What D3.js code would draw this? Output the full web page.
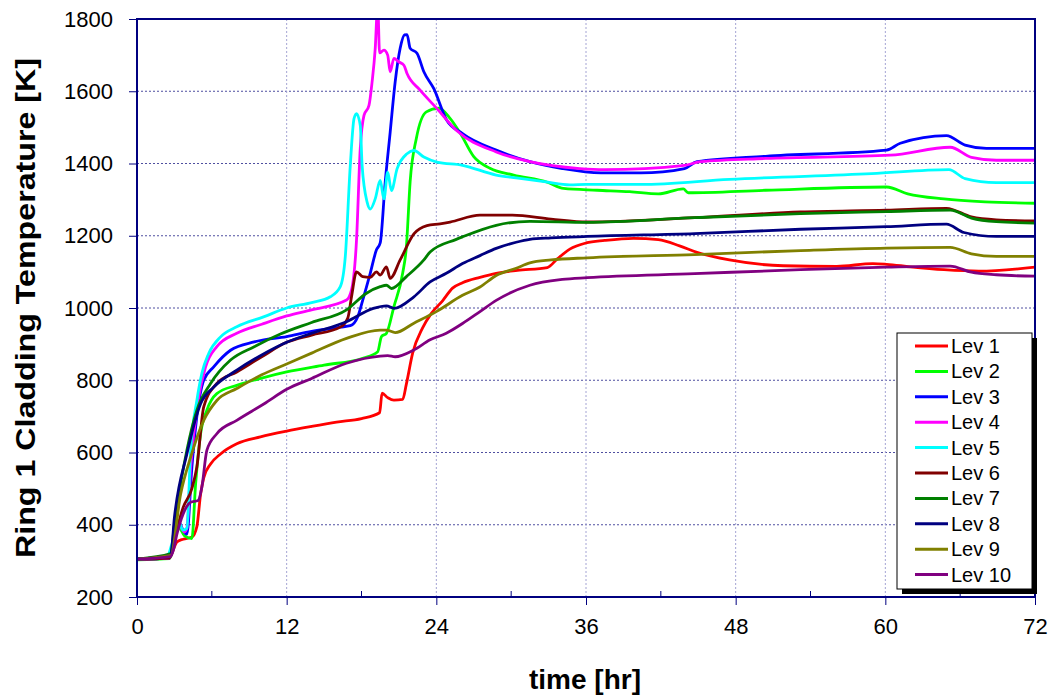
<!DOCTYPE html>
<html>
<head>
<meta charset="utf-8">
<script src="https://cdn.jsdelivr.net/npm/d3@7"></script>
<style>
  html, body { margin: 0; padding: 0; background: #fff; }
  svg { display: block; font-family: Arial, "Liberation Sans", sans-serif; }
</style>
</head>
<body>
<svg id="chart" width="1055" height="696"></svg>
<script>
// ---------- data (time [hr], temperature [K]) ----------
const xTicks = [0, 12, 24, 36, 48, 60, 72];
const xMinorTicks = [6, 18, 30, 42, 54, 66];
const yTicks = [200, 400, 600, 800, 1000, 1200, 1400, 1600, 1800];
const seriesNames = ["Lev 1","Lev 2","Lev 3","Lev 4","Lev 5","Lev 6","Lev 7","Lev 8","Lev 9","Lev 10"];
const seriesColors = ["#ff0000","#00ff00","#0000ff","#ff00ff","#00ffff","#800000","#008000","#000080","#808000","#800080"];

const lev1 = [[0,306],[2.6,308],[2.9,330],[3.2,352],[3.7,360],[4.4,366],[4.8,395],[5.1,485],[5.35,530],[5.9,568],[6.7,596],[8,624],[9.9,643],[12,659],[14,672],[16,684],[18,694],[19.45,710],[19.65,764],[20.1,752],[20.6,745],[21.3,747],[21.6,790],[22.1,875],[22.9,945],[23.6,985],[24.5,1020],[25.3,1055],[26.1,1070],[27.5,1085],[28.8,1096],[30.5,1104],[32.9,1112],[33.7,1136],[34.7,1163],[36,1180],[37.5,1187],[39.8,1193],[41.8,1189],[43.5,1172],[44.9,1154],[47.5,1133],[51.8,1117],[56.1,1115],[59,1123],[60.1,1121],[62,1114],[64.7,1106],[67.5,1102],[72,1113]];
const lev2 = [[0,303],[2.6,306],[3.0,350],[3.3,395],[3.8,370],[4.4,362],[4.7,513],[5.1,652],[5.6,717],[6.4,763],[8,786],[10,806],[12,823],[15,842],[18.1,861],[19.3,879],[19.6,921],[20,930],[20.6,1004],[21.3,1096],[21.6,1170],[21.9,1350],[22.4,1470],[23.2,1543],[24.2,1553],[25.1,1525],[25.9,1485],[27,1419],[28.3,1387],[30.2,1368],[32.9,1348],[34.2,1331],[36.9,1326],[39.5,1322],[41.8,1316],[43.8,1330],[44.2,1319],[50.4,1326],[60.1,1335],[61.8,1316],[64.7,1302],[68,1294],[72,1290]];
const lev3 = [[0,305],[2.6,308],[3.0,360],[3.3,410],[3.7,385],[4.0,374],[4.4,559],[4.8,700],[5.35,800],[6.15,837],[7.5,883],[9.4,906],[12,921],[14,935],[16.3,947],[17.1,951],[17.7,976],[18.1,1022],[18.7,1096],[19.2,1161],[19.5,1180],[19.9,1348],[20.3,1487],[20.7,1626],[21.1,1719],[21.45,1756],[21.65,1757],[21.9,1719],[22.45,1705],[23,1654],[23.8,1607],[24.8,1522],[26.1,1483],[28.8,1437],[31.5,1405],[34.1,1386],[37.2,1374],[40.4,1374],[43.9,1386],[44.9,1405],[50.4,1420],[60.1,1437],[61.2,1456],[64.9,1477],[66.4,1451],[68.1,1442],[72,1442]];
const lev4 = [[0,305],[2.6,308],[3.0,360],[3.3,405],[3.8,380],[4.0,390],[4.3,559],[4.9,744],[5.5,837],[6.4,893],[8,930],[10,955],[12,978],[14,995],[16.8,1022],[17.2,1050],[17.6,1188],[17.9,1441],[18.2,1533],[18.6,1561],[18.85,1626],[19.1,1718],[19.3,1840],[19.45,1706],[19.8,1714],[20.1,1700],[20.3,1654],[20.6,1691],[21,1681],[21.4,1672],[21.65,1649],[22.7,1603],[24.05,1552],[25.6,1492],[28.8,1432],[31.5,1405],[35.5,1386],[37.5,1383],[43.9,1395],[45.2,1405],[50.4,1414],[60.4,1423],[65.2,1445],[66.9,1417],[68.9,1409],[72,1409]];
const lev5 = [[0,305],[2.4,312],[2.9,360],[3.3,410],[3.7,385],[4.0,390],[4.3,606],[4.8,744],[5.2,819],[5.75,874],[6.7,920],[8,948],[10.2,976],[12,1000],[14,1015],[15.5,1031],[16.3,1059],[16.7,1142],[17.1,1394],[17.4,1524],[17.6,1538],[17.9,1506],[18.05,1394],[18.45,1293],[18.7,1274],[19.1,1302],[19.5,1353],[19.8,1302],[20.1,1376],[20.4,1325],[20.85,1385],[21.65,1427],[22.2,1436],[23,1418],[24.05,1404],[26.1,1395],[28.8,1368],[30.4,1360],[32.8,1349],[34.7,1341],[36,1342],[40.4,1342],[47.5,1356],[58.9,1372],[65.1,1383],[66.4,1358],[68.9,1347],[72,1347]];
const lev6 = [[0,305],[2.6,308],[3.0,360],[3.7,448],[4.4,500],[4.8,560],[5.35,726],[6.4,791],[8,823],[10,865],[12,905],[14,925],[16.3,947],[16.9,972],[17.2,1031],[17.6,1100],[18.1,1087],[18.7,1085],[19.2,1100],[19.5,1091],[20,1114],[20.3,1082],[21.1,1133],[22.2,1205],[23.25,1228],[24.3,1233],[25.1,1238],[27.5,1257],[30.1,1257],[33.2,1246],[36.1,1238],[44.7,1250],[53.2,1266],[60.1,1271],[64.9,1276],[66.9,1252],[68.9,1244],[72,1241]];
const lev7 = [[0,305],[2.7,320],[3.0,400],[4,606],[4.8,717],[5.9,791],[7.5,856],[9.4,893],[11.5,928],[14,960],[16.8,995],[18.4,1041],[19.5,1059],[20,1063],[20.4,1054],[21.6,1087],[23,1133],[23.5,1155],[25.6,1190],[26.1,1197],[28.8,1229],[31.5,1240],[36.1,1237],[44.7,1250],[53.2,1261],[60.1,1267],[65.2,1271],[66.9,1249],[68.9,1239],[72,1235]];
const lev8 = [[0,305],[2.7,315],[3.0,420],[4,596],[5.1,735],[6.15,781],[8,828],[10,870],[12,905],[14,930],[16.8,962],[18.95,999],[20,1006],[20.6,999],[22.2,1031],[23.5,1072],[24.8,1096],[26.1,1123],[27.5,1145],[28.8,1165],[30.4,1182],[31.5,1190],[33.2,1194],[36.1,1198],[44.7,1206],[53.2,1218],[60.1,1225],[64.9,1232],[66.3,1209],[68.9,1198],[72,1198]];
const lev9 = [[0,305],[2.7,315],[3.5,485],[4.3,587],[5.35,689],[6.4,744],[8,777],[10,815],[12,845],[14,875],[16.8,916],[19.5,939],[20,939],[20.7,932],[22.2,958],[24,990],[26.1,1035],[27.5,1058],[28.8,1090],[30.4,1110],[31.5,1125],[33.2,1133],[36.1,1139],[44.7,1148],[53.2,1159],[60.1,1166],[65.2,1168],[66.9,1150],[68.9,1143],[72,1143]];
const lev10 = [[0,305],[2.7,312],[2.9,328],[3.2,374],[3.7,430],[4.3,462],[4.9,467],[5.2,504],[5.6,606],[6.4,652],[8,689],[10.2,735],[12,775],[14,805],[16.8,847],[19.5,867],[20.1,868],[20.7,865],[22.2,884],[23.5,912],[24.8,930],[26.1,957],[27.5,990],[28.8,1021],[31.5,1063],[34.1,1079],[36.1,1084],[44.7,1095],[53.2,1106],[60.1,1113],[65.2,1116],[66.9,1099],[68.9,1092],[72,1088]];
const seriesData = [lev1, lev2, lev3, lev4, lev5, lev6, lev7, lev8, lev9, lev10];

// ---------- layout ----------
const svg = d3.select("#chart");
const L = 137, R = 1035, T = 19, B = 597;
const x = d3.scaleLinear().domain([0, 72]).range([L, R]);
const y = d3.scaleLinear().domain([200, 1800]).range([B, T]);

// grid
svg.append("g").selectAll("line").data(yTicks.filter(d => d > 200 && d < 1800)).join("line")
  .attr("x1", L).attr("x2", R).attr("y1", d => y(d)).attr("y2", d => y(d))
  .attr("stroke", "#4f4fa0").attr("stroke-width", 1).attr("stroke-dasharray", "2,2");
svg.append("g").selectAll("line").data(xTicks.filter(d => d > 0 && d < 72)).join("line")
  .attr("x1", d => x(d)).attr("x2", d => x(d)).attr("y1", T).attr("y2", B)
  .attr("stroke", "#a4a4d4").attr("stroke-width", 1).attr("stroke-dasharray", "2,2");

// clip
svg.append("clipPath").attr("id", "clip").append("rect")
  .attr("x", L).attr("y", T).attr("width", R - L).attr("height", B - T);

// series
const line = d3.line().x(d => x(d[0])).y(d => y(d[1])).curve(d3.curveMonotoneX);
svg.append("g").attr("clip-path", "url(#clip)").selectAll("path").data(seriesData).join("path")
  .attr("d", line).attr("fill", "none")
  .attr("stroke", (d, i) => seriesColors[i]).attr("stroke-width", 2.8)
  .attr("stroke-linejoin", "round");

// axes
const yAxis = svg.append("g").attr("transform", `translate(${L},0)`)
  .call(d3.axisLeft(y).tickValues(yTicks).tickSize(8).tickPadding(16).tickFormat(d3.format("d")));
yAxis.select(".domain").remove();
yAxis.selectAll(".tick line").attr("stroke", "#000080").attr("stroke-width", 1);
yAxis.selectAll("text").attr("font-size", 22).attr("fill", "#000").attr("font-family", "Arial, 'Liberation Sans', sans-serif");

const xAxis = svg.append("g").attr("transform", `translate(0,${B})`)
  .call(d3.axisBottom(x).tickValues(xTicks).tickSize(8).tickPadding(13).tickFormat(d3.format("d")));
xAxis.select(".domain").remove();
xAxis.selectAll(".tick line").attr("stroke", "#000080").attr("stroke-width", 1);
xAxis.selectAll("text").attr("font-size", 22).attr("fill", "#000").attr("font-family", "Arial, 'Liberation Sans', sans-serif");
svg.append("g").selectAll("line").data(xMinorTicks).join("line")
  .attr("x1", d => x(d)).attr("x2", d => x(d)).attr("y1", B - 6).attr("y2", B)
  .attr("stroke", "#000080").attr("stroke-width", 1);

// plot border
svg.append("rect").attr("x", L).attr("y", T).attr("width", R - L).attr("height", B - T)
  .attr("fill", "none").attr("stroke", "#000080").attr("stroke-width", 2);

// axis titles
svg.append("text").attr("x", 585).attr("y", 689).attr("text-anchor", "middle")
  .attr("font-size", 28).attr("font-weight", "bold").text("time [hr]");
svg.append("text").attr("transform", "translate(35,308) rotate(-90)").attr("text-anchor", "middle")
  .attr("font-size", 28).attr("font-weight", "bold")
  .attr("textLength", 500).attr("lengthAdjust", "spacingAndGlyphs")
  .text("Ring 1 Cladding Temperature [K]");

// legend
const lg = svg.append("g");
const lx = 897, ly = 333, lw = 135, lh = 256;
lg.append("rect").attr("x", lx + 5).attr("y", ly + 5).attr("width", lw).attr("height", lh).attr("fill", "#000");
lg.append("rect").attr("x", lx).attr("y", ly).attr("width", lw).attr("height", lh)
  .attr("fill", "#fff").attr("stroke", "#000").attr("stroke-width", 1);
const items = lg.selectAll("g.item").data(seriesNames).join("g").attr("class", "item")
  .attr("transform", (d, i) => `translate(0,${346 + i * 25.4})`);
items.append("line").attr("x1", 915).attr("x2", 948).attr("y1", 0).attr("y2", 0)
  .attr("stroke", (d, i) => seriesColors[i]).attr("stroke-width", 3);
items.append("text").attr("x", 951).attr("y", 0).attr("dy", "0.35em")
  .attr("font-size", 20).attr("fill", "#000").text(d => d);
</script>
</body>
</html>
